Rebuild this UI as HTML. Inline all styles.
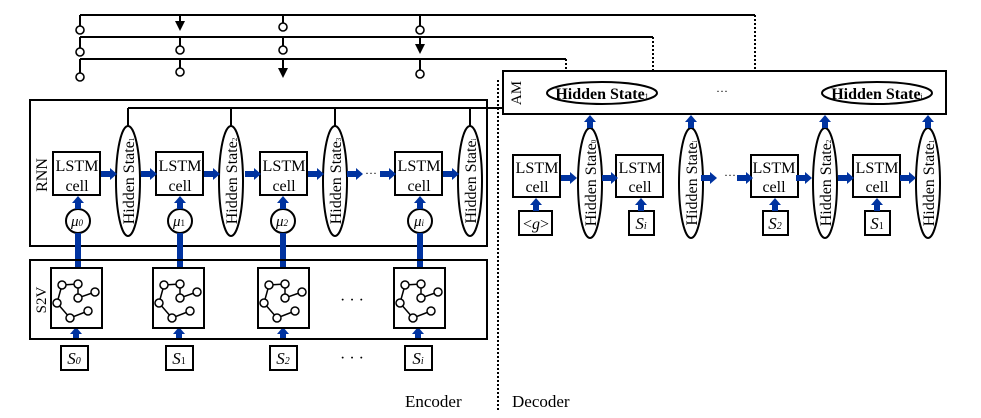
<!DOCTYPE html>
<html><head><meta charset="utf-8"><style>body{margin:0;background:#fff}svg{display:block}text{font-family:"Liberation Serif",serif;fill:#000}</style></head><body>
<svg width="981" height="418" viewBox="0 0 981 418" xmlns="http://www.w3.org/2000/svg">
<defs>
<g id="bu"><rect x="-3" y="0" width="6" height="6" fill="#0033a0"/><path d="M-6,0 L6,0 L0,-7Z" fill="#0033a0"/></g>
<g id="br"><rect x="-10" y="-3" width="9" height="6" fill="#0033a0"/><path d="M-1,-6 L-1,6 L6,0Z" fill="#0033a0"/></g>
<g id="gr" stroke="#000" stroke-width="1.5" fill="#fff">
<rect x="0" y="0" width="51" height="60" stroke-width="2"/>
<path d="M11,17 L27,16 M11,17 L6,35 M27,16 L27,30 L44,24 M6,35 L19,50 L37,43" fill="none"/>
<circle cx="11" cy="17" r="4"/><circle cx="27" cy="16" r="4"/><circle cx="44" cy="24" r="4"/><circle cx="27" cy="30" r="4"/><circle cx="6" cy="35" r="4"/><circle cx="37" cy="43" r="4"/><circle cx="19" cy="50" r="4"/>
</g>
</defs>
<g stroke="#000" stroke-width="2" fill="none">
<path d="M80,15 H755 M80,37 H653 M80,59 H566"/>
<path d="M755,15 V71 M653,37 V71 M566,59 V71 M498,80 V410" stroke-dasharray="2,2"/>
<path d="M80,15 V26 M80,37 V48 M80,59 V73 M180,37 V46 M180,59 V68 M283,15 V23 M283,37 V46 M420,15 V26 M420,59 V70"/>
<path d="M180,15 V24 M283,59 V70 M420,37 V46"/>
</g>
<g fill="#000">
<path d="M175,21 L185,21 L180,31Z"/><path d="M278,68 L288,68 L283,78Z"/><path d="M415,44 L425,44 L420,54Z"/>
</g>
<g stroke="#000" stroke-width="1.6" fill="#fff">
<circle cx="80" cy="30" r="4"/><circle cx="80" cy="52" r="4"/><circle cx="80" cy="77" r="4"/>
<circle cx="180" cy="50" r="4"/><circle cx="180" cy="72" r="4"/>
<circle cx="283" cy="27" r="4"/><circle cx="283" cy="50" r="4"/>
<circle cx="420" cy="30" r="4"/><circle cx="420" cy="74" r="4"/>
</g>
<rect x="30" y="100" width="457" height="146" fill="none" stroke="#000" stroke-width="2"/>
<path d="M128,108 H503 M128,108 V127 M231,108 V127 M335,108 V127 M470,108 V127" stroke="#000" stroke-width="2" fill="none"/>
<text transform="translate(47,175) rotate(-90)" text-anchor="middle" font-size="16">RNN</text>
<g stroke="#000" stroke-width="2" fill="#fff">
<rect x="53" y="152" width="47" height="43"/><rect x="156" y="152" width="47" height="43"/><rect x="260" y="152" width="47" height="43"/><rect x="395" y="152" width="47" height="43"/>
<ellipse cx="128" cy="181" rx="12" ry="55"/><ellipse cx="231" cy="181" rx="12" ry="55"/><ellipse cx="335" cy="181" rx="12" ry="55"/><ellipse cx="470" cy="181" rx="12" ry="55"/>
<circle cx="78" cy="221" r="12"/><circle cx="180" cy="221" r="12"/><circle cx="283" cy="221" r="12"/><circle cx="420" cy="221" r="12"/>
</g>
<g font-size="16" text-anchor="middle">
<text x="77" y="171" textLength="43" lengthAdjust="spacingAndGlyphs">LSTM</text><text x="77" y="191">cell</text>
<text x="180" y="171" textLength="43" lengthAdjust="spacingAndGlyphs">LSTM</text><text x="180" y="191">cell</text>
<text x="284" y="171" textLength="43" lengthAdjust="spacingAndGlyphs">LSTM</text><text x="284" y="191">cell</text>
<text x="419" y="171" textLength="43" lengthAdjust="spacingAndGlyphs">LSTM</text><text x="419" y="191">cell</text>
</g>
<g font-size="16" text-anchor="middle">
<text transform="translate(134,181) rotate(-90)">Hidden State<tspan font-size="7">1</tspan></text>
<text transform="translate(237,181) rotate(-90)">Hidden State<tspan font-size="7">2</tspan></text>
<text transform="translate(341,181) rotate(-90)">Hidden State<tspan font-size="7">3</tspan></text>
<text transform="translate(476,181) rotate(-90)">Hidden State<tspan font-size="7">i</tspan></text>
</g>
<g font-size="15" font-style="italic" text-anchor="middle">
<text x="77" y="226">μ<tspan font-size="9">0</tspan></text><text x="179" y="226">μ<tspan font-size="9" font-style="normal">1</tspan></text><text x="282" y="226">μ<tspan font-size="9">2</tspan></text><text x="419" y="226">μ<tspan font-size="9">i</tspan></text>
</g>
<g>
<use href="#br" x="111" y="174"/><use href="#br" x="151" y="174"/><use href="#br" x="214" y="174"/><use href="#br" x="255" y="174"/><use href="#br" x="318" y="174"/><use href="#br" x="357" y="174"/><use href="#br" x="390" y="174"/><use href="#br" x="453" y="174"/>
<use href="#bu" x="78" y="203"/><use href="#bu" x="180" y="203"/><use href="#bu" x="283" y="203"/><use href="#bu" x="420" y="203"/>
<rect x="75" y="233" width="6" height="35" fill="#0033a0"/><rect x="177" y="233" width="6" height="35" fill="#0033a0"/><rect x="280" y="233" width="6" height="35" fill="#0033a0"/><rect x="417" y="233" width="6" height="35" fill="#0033a0"/>
<use href="#bu" x="76" y="334"/><use href="#bu" x="179" y="334"/><use href="#bu" x="283" y="334"/><use href="#bu" x="418" y="334"/>
</g>
<text x="371" y="177" font-size="12" text-anchor="middle">···</text>
<rect x="30" y="260" width="457" height="79" fill="none" stroke="#000" stroke-width="2"/>
<text transform="translate(46,300) rotate(-90)" text-anchor="middle" font-size="15">S2V</text>
<use href="#gr" x="51" y="268"/><use href="#gr" x="153" y="268"/><use href="#gr" x="258" y="268"/><use href="#gr" x="394" y="268"/>
<text x="352" y="305" font-size="16" text-anchor="middle">· · ·</text>
<text x="352" y="363" font-size="16" text-anchor="middle">· · ·</text>
<g stroke="#000" stroke-width="2" fill="#fff">
<rect x="61" y="346" width="27" height="24"/><rect x="166" y="346" width="27" height="24"/><rect x="270" y="346" width="27" height="24"/><rect x="405" y="346" width="27" height="24"/>
</g>
<g font-size="17" font-style="italic" text-anchor="middle">
<text x="74" y="364">S<tspan font-size="10">0</tspan></text><text x="179" y="364">S<tspan font-size="10" font-style="normal">1</tspan></text><text x="283" y="364">S<tspan font-size="10">2</tspan></text><text x="418" y="364">S<tspan font-size="10">i</tspan></text>
</g>
<text x="405" y="407" font-size="17">Encoder</text>
<text x="512" y="407" font-size="17">Decoder</text>
<rect x="503" y="71" width="443" height="43" fill="#fff" stroke="#000" stroke-width="2"/>
<text transform="translate(521,93) rotate(-90)" text-anchor="middle" font-size="15">AM</text>
<g stroke="#000" stroke-width="2" fill="#fff">
<ellipse cx="602" cy="93" rx="55" ry="11"/><ellipse cx="877" cy="93" rx="55" ry="11"/>
<rect x="513" y="155" width="47" height="42"/><rect x="616" y="155" width="47" height="42"/><rect x="751" y="155" width="47" height="42"/><rect x="853" y="155" width="47" height="42"/>
<ellipse cx="590" cy="183" rx="12" ry="55"/><ellipse cx="691" cy="183" rx="12" ry="55"/><ellipse cx="825" cy="183" rx="12" ry="55"/><ellipse cx="928" cy="183" rx="12" ry="55"/>
<rect x="519" y="211" width="33" height="24"/><rect x="629" y="211" width="25" height="24"/><rect x="763" y="211" width="25" height="24"/><rect x="865" y="211" width="25" height="24"/>
</g>
<g font-size="16" font-weight="bold" text-anchor="middle">
<text x="602" y="99">Hidden State<tspan font-size="8" font-weight="normal">1</tspan></text><text x="877" y="99">Hidden State<tspan font-size="8" font-weight="normal">i</tspan></text>
</g>
<text x="722" y="95" font-size="12" text-anchor="middle">···</text>
<g font-size="16" text-anchor="middle">
<text x="537" y="173" textLength="43" lengthAdjust="spacingAndGlyphs">LSTM</text><text x="537" y="192">cell</text>
<text x="640" y="173" textLength="43" lengthAdjust="spacingAndGlyphs">LSTM</text><text x="640" y="192">cell</text>
<text x="774" y="173" textLength="43" lengthAdjust="spacingAndGlyphs">LSTM</text><text x="774" y="192">cell</text>
<text x="877" y="173" textLength="43" lengthAdjust="spacingAndGlyphs">LSTM</text><text x="877" y="192">cell</text>
<text transform="translate(596,183) rotate(-90)">Hidden State<tspan font-size="7">0</tspan></text>
<text transform="translate(697,183) rotate(-90)">Hidden State<tspan font-size="7">i</tspan></text>
<text transform="translate(831,183) rotate(-90)">Hidden State<tspan font-size="7">2</tspan></text>
<text transform="translate(934,183) rotate(-90)">Hidden State<tspan font-size="7">1</tspan></text>
<text x="536" y="229">&lt;<tspan font-style="italic">g</tspan>&gt;</text>
</g>
<g font-size="17" font-style="italic" text-anchor="middle">
<text x="641" y="229">S<tspan font-size="10">i</tspan></text><text x="775" y="229">S<tspan font-size="10">2</tspan></text><text x="877" y="229">S<tspan font-size="10" font-style="normal">1</tspan></text>
</g>
<text x="730" y="179" font-size="12" text-anchor="middle">···</text>
<g>
<use href="#br" x="571" y="178"/><use href="#br" x="612" y="178"/><use href="#br" x="711" y="178"/><use href="#br" x="747" y="178"/><use href="#br" x="806" y="178"/><use href="#br" x="848" y="178"/><use href="#br" x="910" y="178"/>
<use href="#bu" x="536" y="205"/><use href="#bu" x="641" y="205"/><use href="#bu" x="775" y="205"/><use href="#bu" x="877" y="205"/>
<use href="#bu" x="590" y="122"/><use href="#bu" x="691" y="122"/><use href="#bu" x="825" y="122"/><use href="#bu" x="928" y="122"/>
</g>
</svg>
</body></html>
